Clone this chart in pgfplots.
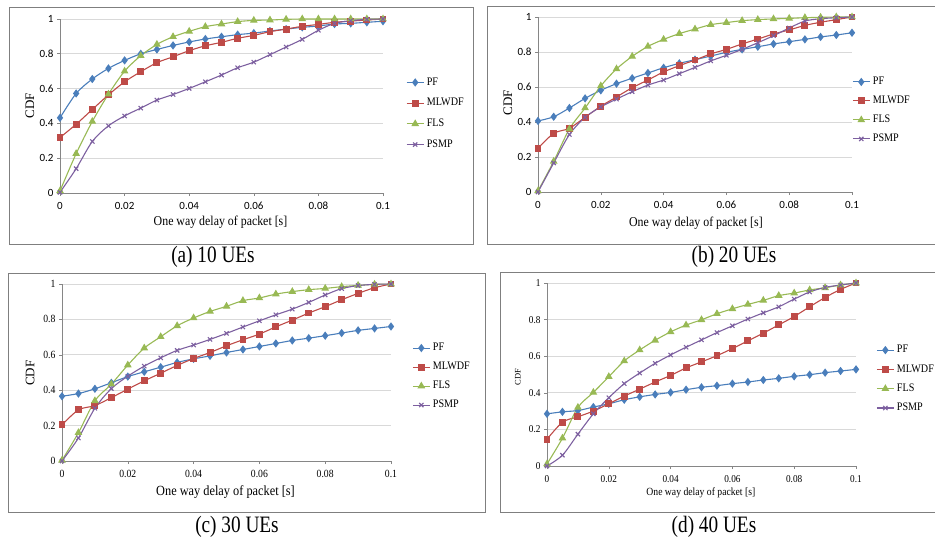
\documentclass[border=0pt]{standalone}
\usepackage{pgfplots}
\pgfplotsset{compat=1.18}
\usepackage{pgfplotstable}
\usepackage{fontspec}
\setmainfont{Liberation Serif}
\newfontfamily\nserif{Liberation Serif}[FakeStretch=0.88]
\newfontfamily\cserif{Liberation Serif}[FakeStretch=0.82]
\newfontfamily\tsans{Carlito}

\definecolor{cPF}{HTML}{4A7EBB}
\definecolor{cML}{HTML}{BE4B48}
\definecolor{cFLS}{HTML}{98B954}
\definecolor{cPS}{HTML}{7D60A0}
\definecolor{gridc}{HTML}{D9D9D9}
\definecolor{axc}{HTML}{868686}
\definecolor{framec}{HTML}{7F7F7F}

\pgfplotstableread{
x pf ml fls ps
0 0.432 0.319 0.012 0.004
0.005 0.572 0.395 0.226 0.140
0.01 0.655 0.480 0.411 0.296
0.015 0.716 0.564 0.568 0.386
0.02 0.762 0.639 0.700 0.443
0.025 0.800 0.697 0.789 0.488
0.03 0.825 0.749 0.854 0.534
0.035 0.848 0.783 0.898 0.566
0.04 0.868 0.818 0.929 0.601
0.045 0.885 0.846 0.956 0.639
0.05 0.898 0.866 0.971 0.678
0.055 0.910 0.889 0.985 0.720
0.06 0.919 0.906 0.992 0.752
0.065 0.931 0.927 0.994 0.795
0.07 0.942 0.942 0.998 0.839
0.075 0.952 0.958 1.0 0.883
0.08 0.960 0.969 1.0 0.935
0.085 0.971 0.981 1.0 0.975
0.09 0.975 0.988 1.0 0.990
0.095 0.981 0.994 1.0 0.998
0.1 0.987 1.0 1.0 1.0
}\tabA

\pgfplotstableread{
x pf ml fls ps
0 0.406 0.250 0.006 0.0
0.005 0.430 0.335 0.175 0.166
0.01 0.480 0.364 0.360 0.328
0.015 0.535 0.427 0.480 0.427
0.02 0.581 0.490 0.606 0.486
0.025 0.619 0.543 0.703 0.531
0.03 0.650 0.596 0.775 0.573
0.035 0.680 0.640 0.832 0.611
0.04 0.710 0.686 0.872 0.640
0.045 0.735 0.722 0.905 0.676
0.05 0.756 0.754 0.931 0.712
0.055 0.777 0.789 0.956 0.749
0.06 0.798 0.815 0.968 0.781
0.065 0.815 0.846 0.979 0.815
0.07 0.830 0.874 0.985 0.853
0.075 0.846 0.903 0.989 0.893
0.08 0.859 0.926 0.992 0.937
0.085 0.872 0.952 0.996 0.977
0.09 0.886 0.970 0.998 0.990
0.095 0.897 0.985 1.0 0.996
0.1 0.910 1.0 1.0 1.0
}\tabB

\pgfplotstableread{
x pf ml fls ps
0 0.366 0.204 0.004 0.0
0.005 0.381 0.289 0.160 0.130
0.01 0.408 0.313 0.340 0.298
0.015 0.442 0.358 0.434 0.409
0.02 0.477 0.406 0.542 0.479
0.025 0.504 0.453 0.638 0.536
0.03 0.530 0.496 0.702 0.583
0.035 0.557 0.540 0.764 0.625
0.04 0.577 0.579 0.808 0.655
0.045 0.594 0.613 0.845 0.687
0.05 0.613 0.651 0.874 0.721
0.055 0.630 0.685 0.906 0.757
0.06 0.647 0.717 0.921 0.792
0.065 0.664 0.758 0.943 0.826
0.07 0.681 0.796 0.957 0.858
0.075 0.694 0.836 0.968 0.896
0.08 0.708 0.872 0.975 0.938
0.085 0.723 0.911 0.985 0.974
0.09 0.738 0.947 0.992 0.991
0.095 0.749 0.979 0.998 0.998
0.1 0.760 1.0 1.0 1.0
}\tabC

\pgfplotstableread{
x pf ml fls ps
0 0.285 0.146 0.011 0.0
0.005 0.296 0.239 0.152 0.059
0.01 0.303 0.269 0.320 0.174
0.015 0.322 0.300 0.402 0.285
0.02 0.340 0.340 0.488 0.373
0.025 0.362 0.382 0.574 0.450
0.03 0.378 0.420 0.634 0.508
0.035 0.391 0.459 0.687 0.561
0.04 0.402 0.495 0.733 0.607
0.045 0.417 0.536 0.770 0.649
0.05 0.430 0.569 0.799 0.689
0.055 0.439 0.603 0.832 0.729
0.06 0.450 0.642 0.859 0.766
0.065 0.459 0.684 0.883 0.803
0.07 0.470 0.726 0.905 0.837
0.075 0.479 0.771 0.931 0.870
0.08 0.490 0.817 0.945 0.912
0.085 0.499 0.870 0.962 0.951
0.09 0.510 0.921 0.974 0.976
0.095 0.519 0.965 0.989 0.989
0.1 0.528 1.0 1.0 1.0
}\tabD

\pgfplotsset{
  cdfbase/.style={
    scale only axis, anchor=south west,
    xmin=0, xmax=0.1, ymin=0, ymax=1, clip=false,
    axis x line*=bottom, axis y line*=left,
    axis line style={draw=axc, line width=0.7pt, -},
    xtick={0,0.02,0.04,0.06,0.08,0.1},
    xticklabels={0,0.02,0.04,0.06,0.08,0.1},
    ytick={0,0.2,0.4,0.6,0.8,1},
    yticklabels={0,0.2,0.4,0.6,0.8,1},
    ymajorgrids, major grid style={draw=gridc, line width=0.8pt},
    tick align=outside, major tick length=3pt,
    tick style={draw=axc, line width=0.6pt},
    xticklabel style={yshift=-2.5pt},
    xlabel={One way delay of packet [s]}, ylabel={CDF},
    legend cell align=left,
    every axis plot/.append style={line width=1.1pt, smooth},
  },
  legpos/.style n args={3}{legend style={draw=none, fill=none, inner sep=0pt,
    font=\nserif\fontsize{11.5}{13}\selectfont, row sep=#3,
    at={(axis description cs:#1,#2)}, anchor=west,
    nodes={inner sep=0pt, text height=7.5pt, text depth=2pt},
    /tikz/every odd column/.append style={column sep=2.5pt}}},
  pf/.style={color=cPF, mark=diamond*, mark size=3.3pt, mark options={solid, fill=cPF}},
  ml/.style={color=cML, mark=square*, mark size=2.9pt, mark options={solid, fill=cML}},
  fls/.style={color=cFLS, mark=triangle*, mark size=3.4pt, mark options={solid, fill=cFLS}},
  ps/.style={color=cPS, mark=x, mark size=3pt, mark options={solid}},
}

\begin{document}
\begin{tikzpicture}
\path[use as bounding box] (0pt,0pt) rectangle (935pt,542pt);

% frames
\draw[framec, line width=0.9pt] (9pt,535pt) rectangle (473pt,298pt);
\draw[framec, line width=0.9pt] (945pt,536pt) -- (487pt,536pt) -- (487pt,298pt) -- (945pt,298pt);
\draw[framec, line width=0.9pt] (8pt,269pt) rectangle (485pt,30pt);
\draw[framec, line width=0.9pt] (945pt,270pt) -- (500pt,270pt) -- (500pt,30pt) -- (945pt,30pt);

% (a)
\begin{axis}[cdfbase, at={(60pt,349pt)}, width=323pt, height=174pt,
  tick label style={font=\tsans\fontsize{11}{12}\selectfont},
  xlabel style={font=\nserif\fontsize{13.5}{15}\selectfont, at={(axis description cs:0.497,-0.167)}, anchor=center},
  ylabel style={font=\fontsize{13}{15}\selectfont, at={(axis description cs:-0.093,0.5)}, anchor=center},
  legpos={1.071}{0.457}{11.2pt}]
\addplot[pf] table[x=x,y=pf] {\tabA}; \addlegendentry{PF}
\addplot[ml] table[x=x,y=ml] {\tabA}; \addlegendentry{MLWDF}
\addplot[fls] table[x=x,y=fls] {\tabA}; \addlegendentry{FLS}
\addplot[ps] table[x=x,y=ps] {\tabA}; \addlegendentry{PSMP}
\end{axis}

% (b)
\begin{axis}[cdfbase, at={(538pt,350pt)}, width=314pt, height=175pt,
  tick label style={font=\tsans\fontsize{11}{12}\selectfont},
  xlabel style={font=\nserif\fontsize{13.5}{15}\selectfont, at={(axis description cs:0.503,-0.177)}, anchor=center},
  ylabel style={font=\fontsize{13}{15}\selectfont, at={(axis description cs:-0.096,0.509)}, anchor=center},
  legpos={1.0}{0.466}{9.5pt}]
\addplot[pf] table[x=x,y=pf] {\tabB}; \addlegendentry{PF}
\addplot[ml] table[x=x,y=ml] {\tabB}; \addlegendentry{MLWDF}
\addplot[fls] table[x=x,y=fls] {\tabB}; \addlegendentry{FLS}
\addplot[ps] table[x=x,y=ps] {\tabB}; \addlegendentry{PSMP}
\end{axis}

% (c)
\begin{axis}[cdfbase, at={(62pt,81pt)}, width=329pt, height=177pt,
  tick label style={font=\nserif\fontsize{11}{12}\selectfont},
  xlabel style={font=\nserif\fontsize{14}{16}\selectfont, at={(axis description cs:0.497,-0.175)}, anchor=center},
  ylabel style={font=\fontsize{13}{15}\selectfont, at={(axis description cs:-0.097,0.497)}, anchor=center},
  legpos={1.064}{0.477}{9.5pt}]
\addplot[pf] table[x=x,y=pf] {\tabC}; \addlegendentry{PF}
\addplot[ml] table[x=x,y=ml] {\tabC}; \addlegendentry{MLWDF}
\addplot[fls] table[x=x,y=fls] {\tabC}; \addlegendentry{FLS}
\addplot[ps] table[x=x,y=ps] {\tabC}; \addlegendentry{PSMP}
\end{axis}

% (d)
\begin{axis}[cdfbase, at={(547pt,76pt)}, width=309pt, height=183pt,
  tick label style={font=\nserif\fontsize{10.5}{12}\selectfont},
  xlabel style={font=\nserif\fontsize{11}{13}\selectfont, at={(axis description cs:0.498,-0.148)}, anchor=center},
  ylabel style={font=\fontsize{8.5}{10}\selectfont, at={(axis description cs:-0.094,0.486)}, anchor=center},
  legpos={1.065}{0.475}{9.8pt}]
\addplot[pf] table[x=x,y=pf] {\tabD}; \addlegendentry{PF}
\addplot[ml] table[x=x,y=ml] {\tabD}; \addlegendentry{MLWDF}
\addplot[fls] table[x=x,y=fls] {\tabD}; \addlegendentry{FLS}
\addplot[ps] table[x=x,y=ps] {\tabD}; \addlegendentry{PSMP}
\end{axis}

% captions
\node[font=\cserif\fontsize{23.5}{25}\selectfont, anchor=center] at (213pt,285pt) {(a) 10 UEs};
\node[font=\cserif\fontsize{23.5}{25}\selectfont, anchor=center] at (734pt,285pt) {(b) 20 UEs};
\node[font=\cserif\fontsize{23.5}{25}\selectfont, anchor=center] at (237pt,15pt) {(c) 30 UEs};
\node[font=\cserif\fontsize{23.5}{25}\selectfont, anchor=center] at (714pt,15pt) {(d) 40 UEs};
\end{tikzpicture}
\end{document}
